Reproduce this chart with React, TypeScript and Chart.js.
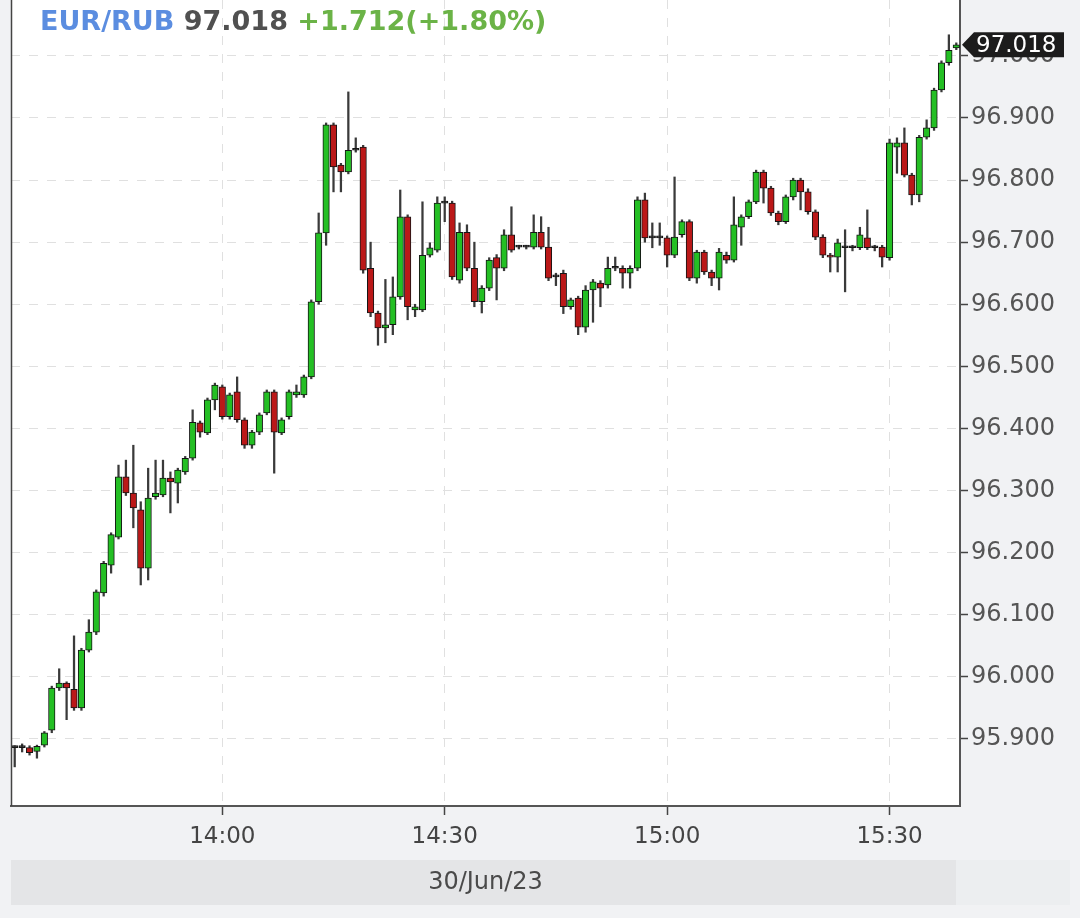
import React, { useEffect, useRef } from 'react';
import { Chart, registerables } from 'chart.js';

Chart.register(...registerables);

// ---- data (1-minute candles, 30/Jun/23, from 13:32) ----
const startMinute = 13 * 60 + 32;

const opens = [
  95.886, 95.886, 95.886, 95.880, 95.890, 95.914, 95.982, 95.990, 95.980, 95.950,
  96.043, 96.072, 96.135, 96.180, 96.225, 96.322, 96.296, 96.269, 96.175, 96.290,
  96.293, 96.320, 96.312, 96.330, 96.352, 96.409, 96.393, 96.446, 96.467, 96.419,
  96.459, 96.414, 96.373, 96.394, 96.425, 96.459, 96.393, 96.419, 96.454, 96.454,
  96.483, 96.604, 96.715, 96.889, 96.824, 96.813, 96.848, 96.853, 96.658, 96.586,
  96.562, 96.567, 96.612, 96.741, 96.591, 96.591, 96.679, 96.687, 96.763, 96.763,
  96.639, 96.716, 96.658, 96.604, 96.626, 96.675, 96.658, 96.712, 96.692, 96.692,
  96.692, 96.716, 96.692, 96.644, 96.650, 96.596, 96.610, 96.563, 96.623, 96.634,
  96.631, 96.658, 96.658, 96.650, 96.658, 96.768, 96.707, 96.707, 96.707, 96.679,
  96.712, 96.733, 96.642, 96.684, 96.652, 96.642, 96.679, 96.671, 96.724, 96.741,
  96.765, 96.813, 96.787, 96.747, 96.733, 96.773, 96.800, 96.781, 96.749, 96.708,
  96.679, 96.676, 96.691, 96.691, 96.691, 96.707, 96.691, 96.692, 96.675, 96.853,
  96.860, 96.808, 96.776, 96.869, 96.884, 96.945, 96.989, 97.013,
];

const highs = [
  95.889, 95.892, 95.889, 95.890, 95.912, 95.985, 96.013, 95.992, 96.066, 96.046,
  96.092, 96.140, 96.186, 96.232, 96.341, 96.349, 96.373, 96.282, 96.336, 96.349,
  96.349, 96.330, 96.336, 96.355, 96.430, 96.412, 96.449, 96.473, 96.470, 96.457,
  96.483, 96.417, 96.397, 96.425, 96.462, 96.462, 96.417, 96.462, 96.470, 96.486,
  96.607, 96.747, 96.892, 96.892, 96.827, 96.942, 96.868, 96.856, 96.700, 96.589,
  96.640, 96.644, 96.784, 96.744, 96.600, 96.765, 96.699, 96.773, 96.773, 96.766,
  96.731, 96.728, 96.700, 96.630, 96.675, 96.680, 96.720, 96.757, 96.695, 96.695,
  96.744, 96.741, 96.724, 96.650, 96.655, 96.610, 96.613, 96.630, 96.640, 96.638,
  96.676, 96.676, 96.662, 96.662, 96.773, 96.779, 96.731, 96.731, 96.710, 96.805,
  96.736, 96.736, 96.687, 96.687, 96.655, 96.690, 96.684, 96.773, 96.744, 96.768,
  96.816, 96.816, 96.790, 96.750, 96.776, 96.803, 96.803, 96.786, 96.752, 96.712,
  96.682, 96.705, 96.720, 96.695, 96.724, 96.752, 96.695, 96.695, 96.866, 96.868,
  96.884, 96.811, 96.872, 96.897, 96.948, 96.992, 97.034, 97.021,
];

const lows = [
  95.855, 95.879, 95.874, 95.869, 95.887, 95.910, 95.978, 95.931, 95.946, 95.946,
  96.040, 96.068, 96.130, 96.167, 96.222, 96.292, 96.240, 96.148, 96.156, 96.286,
  96.290, 96.264, 96.280, 96.326, 96.349, 96.386, 96.390, 96.430, 96.415, 96.415,
  96.410, 96.368, 96.368, 96.390, 96.422, 96.328, 96.390, 96.415, 96.450, 96.450,
  96.480, 96.600, 96.695, 96.781, 96.781, 96.810, 96.845, 96.650, 96.580, 96.534,
  96.538, 96.551, 96.608, 96.575, 96.580, 96.588, 96.676, 96.684, 96.733, 96.640,
  96.634, 96.654, 96.596, 96.586, 96.622, 96.607, 96.654, 96.684, 96.689, 96.689,
  96.689, 96.689, 96.638, 96.630, 96.585, 96.592, 96.551, 96.555, 96.571, 96.596,
  96.626, 96.654, 96.626, 96.626, 96.654, 96.700, 96.691, 96.695, 96.660, 96.675,
  96.708, 96.638, 96.634, 96.648, 96.630, 96.623, 96.666, 96.668, 96.695, 96.738,
  96.762, 96.763, 96.743, 96.728, 96.730, 96.768, 96.752, 96.745, 96.704, 96.675,
  96.652, 96.652, 96.620, 96.686, 96.688, 96.688, 96.686, 96.660, 96.671, 96.811,
  96.805, 96.760, 96.765, 96.866, 96.880, 96.942, 96.985, 97.010,
];

const closes = [
  95.886, 95.886, 95.878, 95.888, 95.910, 95.982, 95.990, 95.982, 95.950, 96.043,
  96.072, 96.137, 96.183, 96.229, 96.322, 96.296, 96.272, 96.175, 96.288, 96.296,
  96.320, 96.314, 96.333, 96.352, 96.410, 96.394, 96.446, 96.470, 96.419, 96.454,
  96.414, 96.373, 96.394, 96.422, 96.459, 96.394, 96.414, 96.459, 96.459, 96.483,
  96.604, 96.715, 96.889, 96.821, 96.813, 96.848, 96.848, 96.655, 96.586, 96.562,
  96.567, 96.612, 96.741, 96.596, 96.596, 96.679, 96.691, 96.763, 96.763, 96.644,
  96.716, 96.658, 96.604, 96.626, 96.671, 96.658, 96.712, 96.687, 96.692, 96.692,
  96.716, 96.692, 96.642, 96.644, 96.596, 96.607, 96.563, 96.623, 96.636, 96.626,
  96.658, 96.658, 96.650, 96.658, 96.768, 96.707, 96.707, 96.707, 96.679, 96.708,
  96.733, 96.642, 96.684, 96.652, 96.642, 96.684, 96.671, 96.728, 96.741, 96.765,
  96.813, 96.787, 96.747, 96.733, 96.773, 96.800, 96.781, 96.749, 96.708, 96.679,
  96.676, 96.699, 96.691, 96.691, 96.712, 96.691, 96.691, 96.676, 96.860, 96.860,
  96.808, 96.776, 96.869, 96.884, 96.945, 96.989, 97.009, 97.018,
];

const yTickValues = [95.9, 96.0, 96.1, 96.2, 96.3, 96.4, 96.5, 96.6, 96.7, 96.8, 96.9, 97.0];
const xTickLabels = ['14:00', '14:30', '15:00', '15:30'];
const yMin = 95.792;
const yMax = 97.09;

const symbolText = 'EUR/RUB';
const priceText = '97.018';
const changeText = '+1.712(+1.80%)';
const dateText = '30/Jun/23';
const lastClose = closes[closes.length - 1];

const categories = opens.map((_, i) => {
  const m = startMinute + i;
  return `${Math.floor(m / 60)}:${String(m % 60).padStart(2, '0')}`;
});

const UP = '#24bf24';
const DOWN = '#bb1818';
const FLAT = '#2a2a2a';

const framePlugin = {
  id: 'frame',
  beforeDraw(chart: any) {
    const { ctx, chartArea } = chart;
    ctx.save();
    ctx.fillStyle = '#f1f2f4';
    ctx.fillRect(0, 0, chart.width, chart.height);
    ctx.fillStyle = '#ffffff';
    ctx.fillRect(chartArea.left, chartArea.top, chartArea.right - chartArea.left, chartArea.bottom - chartArea.top);
    // date strip
    ctx.fillStyle = '#e4e5e7';
    ctx.fillRect(chartArea.left, 860, 956 - chartArea.left, 45);
    ctx.fillStyle = '#eceef0';
    ctx.fillRect(956, 860, 114, 45);
    ctx.restore();
  },
  afterDraw(chart: any) {
    const { ctx, chartArea } = chart;
    ctx.save();
    // left frame line
    ctx.strokeStyle = '#444';
    ctx.lineWidth = 1.5;
    ctx.beginPath();
    ctx.moveTo(chartArea.left + 0.5, chartArea.top);
    ctx.lineTo(chartArea.left + 0.5, chartArea.bottom);
    ctx.stroke();
    // last price tag
    const y = chart.scales.y.getPixelForValue(lastClose);
    const x0 = chartArea.right + 2;
    ctx.fillStyle = '#1c1c1c';
    ctx.beginPath();
    ctx.moveTo(x0, y);
    ctx.lineTo(x0 + 12, y - 12.5);
    ctx.lineTo(1064, y - 12.5);
    ctx.lineTo(1064, y + 12.5);
    ctx.lineTo(x0 + 12, y + 12.5);
    ctx.closePath();
    ctx.fill();
    ctx.fillStyle = '#ffffff';
    ctx.font = '23px "DejaVu Sans"';
    ctx.textBaseline = 'middle';
    ctx.textAlign = 'left';
    ctx.fillText(priceText, x0 + 14, y + 1);
    ctx.restore();
  },
};

export default function App() {
  const ref = useRef<HTMLCanvasElement>(null);

  useEffect(() => {
    document.body.style.margin = '0';
    const bodyColors = opens.map((o, i) => (closes[i] > o ? UP : closes[i] < o ? DOWN : FLAT));
    const chart = new Chart(ref.current!, {
      type: 'bar',
      data: {
        labels: categories,
        datasets: [
          {
            label: 'body',
            data: opens.map((o, i) => [o, closes[i]]) as any,
            backgroundColor: bodyColors,
            borderColor: '#151515',
            borderWidth: 1,
            borderSkipped: false,
            barThickness: 6.5,
            minBarLength: 2,
            grouped: false,
          },
          {
            label: 'wick',
            data: lows.map((l, i) => [l, highs[i]]) as any,
            backgroundColor: '#3a3a3a',
            borderWidth: 0,
            barThickness: 1.6,
            grouped: false,
          },
        ],
      },
      options: {
        responsive: false,
        animation: false,
        devicePixelRatio: 1,
        layout: { padding: { left: 11, top: 0, right: 0, bottom: 0 } },
        plugins: { legend: { display: false }, tooltip: { enabled: false } },
        scales: {
          x: {
            type: 'category',
            offset: true,
            afterBuildTicks: (scale: any) => {
              const labels = scale.getLabels();
              scale.ticks = labels
                .map((_: string, i: number) => ({ value: i }))
                .filter((t: any) => xTickLabels.includes(labels[t.value]));
            },
            afterFit: (scale: any) => {
              scale.height = 112;
              scale.paddingLeft = 0;
              scale.paddingRight = 0;
            },
            grid: {
              offset: false,
              color: '#e0e0e0',
              lineWidth: 1,
              tickLength: 9,
              tickColor: '#444',
              tickWidth: 1.5,
            },
            border: { display: true, color: '#555', width: 2, dash: [9, 9] },
            ticks: {
              autoSkip: false,
              maxRotation: 0,
              padding: 8,
              color: '#444',
              font: { family: '"DejaVu Sans"', size: 23 },
            },
            title: {
              display: true,
              text: dateText,
              color: '#4a4a4a',
              font: { family: '"DejaVu Sans"', size: 24 },
              padding: { top: 4, bottom: 21 },
            },
          },
          y: {
            type: 'linear',
            position: 'right',
            min: yMin,
            max: yMax,
            afterBuildTicks: (scale: any) => {
              scale.ticks = yTickValues.map((v) => ({ value: v }));
            },
            afterFit: (scale: any) => {
              scale.width = 120;
              scale.paddingTop = 0;
              scale.paddingBottom = 0;
            },
            grid: {
              color: '#e0e0e0',
              lineWidth: 1,
              tickLength: 8,
              tickColor: '#444',
              tickWidth: 1.5,
            },
            border: { display: true, color: '#555', width: 2, dash: [9, 9] },
            ticks: {
              padding: 3,
              color: '#555',
              font: { family: '"DejaVu Sans"', size: 24 },
              callback: (v: any) => Number(v).toFixed(3),
            },
          },
        },
      },
      plugins: [framePlugin],
    });
    return () => chart.destroy();
  }, []);

  return (
    <div style={{ position: 'relative', width: 1080, height: 918, background: '#f1f2f4', overflow: 'hidden' }}>
      <canvas ref={ref} width={1080} height={918} style={{ position: 'absolute', left: 0, top: 0, width: 1080, height: 918 }} />
      <div
        style={{
          position: 'absolute',
          left: 40,
          top: 6,
          font: 'bold 27px "DejaVu Sans"',
          lineHeight: '30px',
          whiteSpace: 'nowrap',
        }}
      >
        <span style={{ color: '#5b8de0' }}>{symbolText}</span>{' '}
        <span style={{ color: '#505050' }}>{priceText}</span>{' '}
        <span style={{ color: '#6bb347' }}>{changeText}</span>
      </div>
    </div>
  );
}
